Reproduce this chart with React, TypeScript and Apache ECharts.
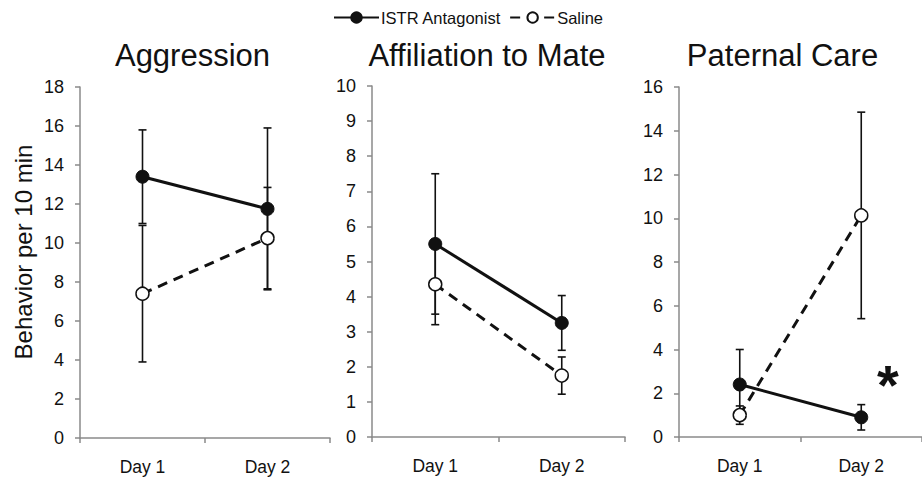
import React, { useEffect, useRef } from "react";
import * as echarts from "echarts";

const categories = ["Day 1", "Day 2"];
const panelTitles = ["Aggression", "Affiliation to Mate", "Paternal Care"];
const seriesNames = ["ISTR Antagonist", "Saline"];
const yAxisTitle = "Behavior per 10 min";

// means and standard errors per panel
const aggressionAntagonist = [13.4, 11.75];
const aggressionAntagonistSE = [2.4, 4.15];
const aggressionSaline = [7.4, 10.25];
const aggressionSalineSE = [3.5, 2.6];

const affiliationAntagonist = [5.5, 3.25];
const affiliationAntagonistSE = [2.0, 0.78];
const affiliationSaline = [4.35, 1.75];
const affiliationSalineSE = [1.15, 0.53];

const paternalAntagonist = [2.4, 0.9];
const paternalAntagonistSE = [1.6, 0.58];
const paternalSaline = [1.0, 10.13];
const paternalSalineSE = [0.42, 4.72];

const yMax = [18, 10, 16];
const yInterval = [2, 1, 2];

const FONT = "'Liberation Sans', Arial, sans-serif";
const AXIS_GRAY = "#8a8a8a";
const INK = "#111";

const panels = [
  { a: aggressionAntagonist, aSE: aggressionAntagonistSE, s: aggressionSaline, sSE: aggressionSalineSE },
  { a: affiliationAntagonist, aSE: affiliationAntagonistSE, s: affiliationSaline, sSE: affiliationSalineSE },
  { a: paternalAntagonist, aSE: paternalAntagonistSE, s: paternalSaline, sSE: paternalSalineSE },
];

const grids = [
  { left: 80, top: 87, width: 250, height: 351 },
  { left: 372, top: 86, width: 253, height: 351 },
  { left: 679, top: 87, width: 252, height: 350 },
];

function errData(mean: number[], se: number[]) {
  return mean.map((m, i) => [i, m - se[i], m + se[i]]);
}

function renderErr(params: any, api: any) {
  const x = api.value(0);
  const lo = api.coord([x, api.value(1)]);
  const hi = api.coord([x, api.value(2)]);
  const hw = 4;
  const style = { stroke: INK, lineWidth: 1.6 };
  return {
    type: "group",
    children: [
      { type: "line", shape: { x1: hi[0], y1: hi[1], x2: lo[0], y2: lo[1] }, style },
      { type: "line", shape: { x1: hi[0] - hw, y1: hi[1], x2: hi[0] + hw, y2: hi[1] }, style },
      { type: "line", shape: { x1: lo[0] - hw, y1: lo[1], x2: lo[0] + hw, y2: lo[1] }, style },
    ],
  };
}

export default function App() {
  const ref = useRef<HTMLDivElement>(null);
  useEffect(() => {
    if (!ref.current) return;
    const chart = echarts.init(ref.current, null, { renderer: "svg" });
    const titleCenters = [192.5, 487, 782.5];
    const series: any[] = [];
    panels.forEach((p, i) => {
      series.push({
        type: "custom",
        xAxisIndex: i,
        yAxisIndex: i,
        renderItem: renderErr,
        data: errData(p.a, p.aSE),
        z: 1,
        silent: true,
      });
      series.push({
        type: "custom",
        xAxisIndex: i,
        yAxisIndex: i,
        renderItem: renderErr,
        data: errData(p.s, p.sSE),
        z: 1,
        silent: true,
      });
      series.push({
        name: seriesNames[0],
        type: "line",
        xAxisIndex: i,
        yAxisIndex: i,
        data: p.a,
        symbol: "circle",
        symbolSize: 13,
        lineStyle: { color: INK, width: 3 },
        itemStyle: { color: INK, borderColor: INK, borderWidth: 1 },
        z: 3,
      });
      series.push({
        name: seriesNames[1],
        type: "line",
        xAxisIndex: i,
        yAxisIndex: i,
        data: p.s,
        symbol: "circle",
        symbolSize: 13,
        lineStyle: { color: INK, width: 3, type: [10, 7] },
        itemStyle: { color: "#fff", borderColor: INK, borderWidth: 1.5 },
        z: 4,
      });
    });

    chart.setOption({
      animation: false,
      backgroundColor: "#fff",
      textStyle: { fontFamily: FONT },
      title: panelTitles.map((t, i) => ({
        text: t,
        left: titleCenters[i] - 5,
        top: 35,
        textAlign: "center",
        textStyle: { fontFamily: FONT, fontSize: 31, fontWeight: "normal", color: INK },
      })),
      legend: {
        data: seriesNames,
        left: 328,
        top: 4,
        itemWidth: 45,
        itemHeight: 13,
        itemGap: 8,
        textStyle: { fontFamily: FONT, fontSize: 16.5, color: INK, padding: [0, 0, 0, -3] },
      },
      grid: grids,
      xAxis: grids.map((_, i) => ({
        type: "category",
        gridIndex: i,
        data: categories,
        boundaryGap: true,
        axisLine: { lineStyle: { color: AXIS_GRAY, width: 1.5 } },
        axisTick: { show: true, length: 5, lineStyle: { color: AXIS_GRAY, width: 1.5 } },
        axisLabel: { fontFamily: FONT, fontSize: 17.5, color: INK, margin: 20 },
        splitLine: { show: false },
      })),
      yAxis: grids.map((_, i) => ({
        type: "value",
        gridIndex: i,
        min: 0,
        max: yMax[i],
        interval: yInterval[i],
        axisLine: { show: true, lineStyle: { color: AXIS_GRAY, width: 1.5 } },
        axisTick: { show: true, length: 5, lineStyle: { color: AXIS_GRAY, width: 1.5 } },
        axisLabel: { fontFamily: FONT, fontSize: 18, color: INK, margin: 16 },
        splitLine: { show: false },
      })),
      graphic: [
        {
          type: "text",
          x: 23,
          y: 252,
          rotation: Math.PI / 2,
          style: {
            text: yAxisTitle,
            align: "center",
            verticalAlign: "middle",
            fontFamily: FONT,
            fontSize: 24,
            fill: INK,
          },
        },
        {
          type: "text",
          left: 877,
          top: 356,
          style: { text: "*", fontFamily: FONT, fontSize: 56, fontWeight: "bold", fill: INK },
        },
      ],
      series,
    });
    return () => chart.dispose();
  }, []);
  return (
    <div
      ref={ref}
      style={{ position: "fixed", left: 0, top: 0, width: 922, height: 477 }}
    />
  );
}
